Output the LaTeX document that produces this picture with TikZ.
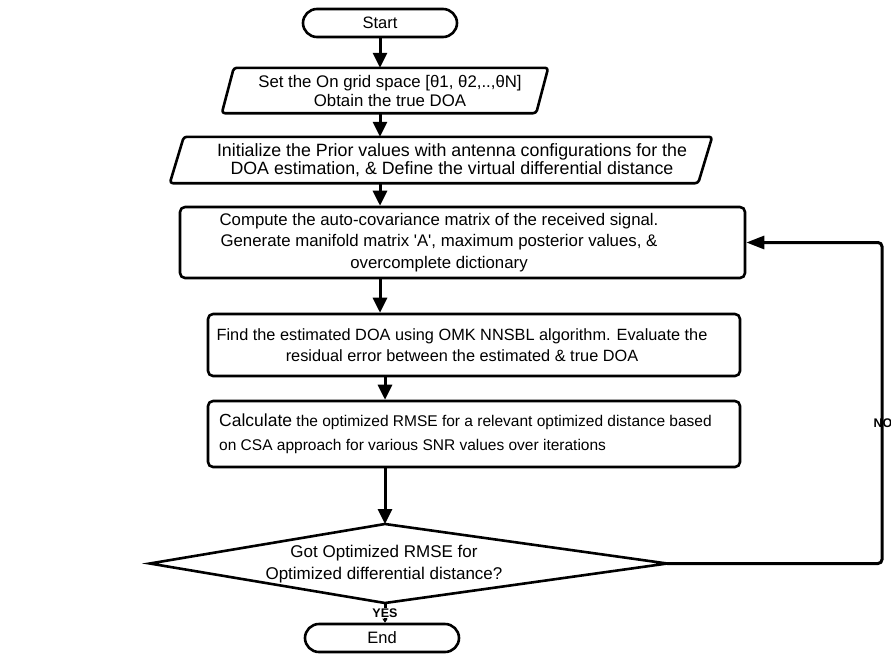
\documentclass[tikz,border=0pt]{standalone}
\usepackage{fontspec}
\setmainfont{Liberation Sans}
\usetikzlibrary{arrows.meta}
\newcommand\fsz[2]{\fontsize{#1pt}{#2pt}\selectfont}
\begin{document}
\begin{tikzpicture}[x=1pt,y=-1pt,
  outl/.style={draw=black, line width=2.6pt, line join=round},
  procbox/.style={outl, rounded corners=5pt, inner sep=0pt},
  term/.style={outl, rounded corners=14pt, minimum width=154pt, minimum height=28pt, inner sep=0pt, font=\fsz{16.5}{19}},
  ghost/.style={inner sep=0pt},
  txt/.style={inner sep=0pt, align=center, font=\fsz{16.3}{21.5}},
  arr/.style={line width=3pt, -{Triangle[length=15pt,width=14pt]}},
  lbl/.style={inner sep=0.5pt, font=\bfseries\fsz{12.5}{13}}
]
\useasboundingbox (0,0) rectangle (891,656);
\fill[white] (0,0) rectangle (891,656);

% Start
\node[term] (start) at (380,23) {Start};

% parallelogram 1
\node[ghost, minimum width=314pt, minimum height=45pt] (p1) at (385,90.5) {};
\draw[outl, rounded corners=3pt] ([xshift=-6pt]p1.south west) -- ([xshift=6pt]p1.north west) -- ([xshift=6pt]p1.north east) -- ([xshift=-6pt]p1.south east) -- cycle;
\node[txt, font=\fsz{16.8}{18.5}] (p1t) at (390,91) {Set the On grid space [θ1, θ2,..,θN]\\Obtain the true DOA};

% parallelogram 2
\node[ghost, minimum width=528pt, minimum height=46pt] (p2) at (441,160) {};
\draw[outl, rounded corners=3pt] ([xshift=-7pt]p2.south west) -- ([xshift=7pt]p2.north west) -- ([xshift=7pt]p2.north east) -- ([xshift=-7pt]p2.south east) -- cycle;
\node[txt, font=\fsz{17.8}{18.5}] (p2t) at (452,160) {Initialize the Prior values with antenna configurations for the\\DOA estimation, \& Define the virtual differential distance};

% rect 3
\node[procbox, minimum width=565pt, minimum height=71pt] (r3) at (462.5,242.5) {};
\node[txt, font=\fsz{16.8}{21.5}] (r3t) at (439,242.5) {Compute the auto-covariance matrix of the received signal.\\Generate manifold matrix \textquotesingle A\textquotesingle, maximum posterior values, \&\\overcomplete dictionary};

% rect 4
\node[procbox, minimum width=532pt, minimum height=62pt] (r4) at (474,345) {};
\node[txt] (r4t) at (462,345) {Find the estimated DOA using OMK NNSBL algorithm. Evaluate the\\residual error between the estimated \& true DOA};

% rect 5
\node[procbox, minimum width=532pt, minimum height=66pt] (r5) at (474,434) {};
\node[txt, align=left, anchor=west, font=\fsz{15.5}{24}] (r5t) at (219,434) {{\fsz{17.5}{24}Calculate} the optimized RMSE for a relevant optimized distance based\\on CSA approach for various SNR values over iterations};

% decision
\node[ghost, minimum width=517pt, minimum height=79pt] (dec) at (408.5,563.5) {};
\coordinate (dtop) at (385,524);
\coordinate (dbot) at (385,603);
\draw[outl, line join=miter] (dec.west) -- (dtop) -- (dec.east) -- (dbot) -- cycle;
\node[txt, font=\fsz{17}{22}] (dect) at (384,564) {Got Optimized RMSE for\\Optimized differential distance?};

% End
\node[term] (end) at (382,638) {End};

% connectors
\coordinate (ax) at (380,0);
\coordinate (bx) at (385,0);
\coordinate (fx) at (882,0);
\draw[arr] (start.south) -- (start.south |- p1.north);
\draw[arr] (p1.south -| ax) -- (p2.north -| ax);
\draw[arr] (p2.south -| ax) -- (r3.north -| ax);
\draw[arr] (r3.south -| ax) -- (r4.north -| ax);
\draw[arr] (r4.south -| bx) -- (r5.north -| bx);
\draw[arr] (r5.south -| bx) -- (dtop);
\draw[line width=3pt, -{Triangle[length=4pt,width=5pt]}] (dbot) -- (dbot |- end.north) node[midway, fill=white, lbl] (yes) {YES};
\draw[line width=3pt, rounded corners=4pt, -{Triangle[length=18pt,width=13pt]}] (dec.east) -- (dec.east -| fx) -- (r3.east -| fx) -- (r3.east);
\node[lbl, anchor=east] (no) at (893,423) {NO};
\end{tikzpicture}
\end{document}
